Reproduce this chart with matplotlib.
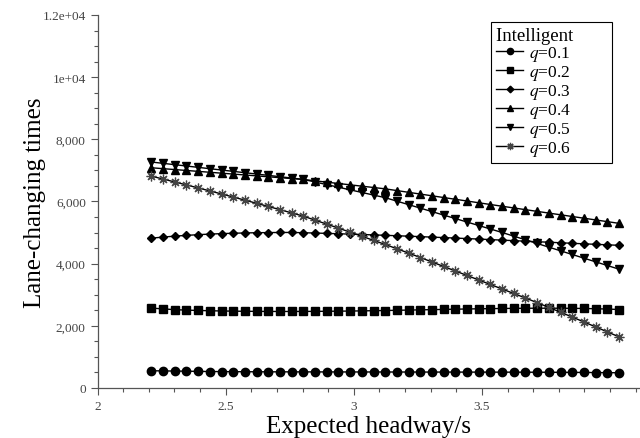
import numpy as np
import matplotlib
matplotlib.use("Agg")
import matplotlib.pyplot as plt

plt.rcParams['font.family'] = ['Liberation Serif', 'DejaVu Serif']
plt.rcParams['mathtext.fontset'] = 'stix'

# expected headway grid (41 runs)
headway = np.linspace(2.21, 4.035, 41)

q01 = [555, 550, 545, 540, 535, 530, 528, 525, 523, 522, 520, 520, 519, 518, 518, 517,
       517, 516, 516, 515, 515, 514, 514, 513, 513, 512, 512, 511, 511, 510, 510, 509,
       508, 507, 506, 504, 502, 500, 497, 494, 490]
q02 = [2570, 2545, 2520, 2505, 2495, 2485, 2478, 2472, 2468, 2465, 2463, 2462, 2462,
       2463, 2465, 2468, 2472, 2476, 2481, 2487, 2493, 2500, 2507, 2514, 2521, 2528,
       2535, 2542, 2548, 2553, 2558, 2562, 2565, 2567, 2567, 2566, 2563, 2558, 2550,
       2540, 2525]
q03 = [4820, 4855, 4885, 4910, 4932, 4951, 4966, 4978, 4988, 4995, 5000, 5003, 5004,
       4995, 4985, 4974, 4962, 4950, 4938, 4925, 4912, 4898, 4884, 4869, 4854, 4839,
       4823, 4807, 4791, 4774, 4757, 4740, 4723, 4706, 4689, 4672, 4655, 4638, 4622,
       4606, 4590]
q04 = [7085, 7056, 7027, 6998, 6969, 6940, 6911, 6882, 6853, 6824, 6795, 6766, 6737,
       6708, 6665, 6622, 6579, 6536, 6493, 6450, 6407, 6351, 6295, 6239, 6183, 6127,
       6071, 6015, 5959, 5903, 5847, 5792, 5737, 5682, 5627, 5572, 5517, 5462, 5407,
       5352, 5297]
q05 = [7270, 7227, 7184, 7141, 7098, 7055, 7012, 6969, 6926, 6883, 6840, 6797, 6754,
       6711, 6627, 6543, 6459, 6375, 6291, 6207, 6123, 6011, 5899, 5787, 5675, 5563,
       5451, 5339, 5227, 5115, 5003, 4885, 4767, 4649, 4531, 4413, 4295, 4177, 4059,
       3941, 3823]
q06 = [6815, 6722, 6628, 6533, 6437, 6340, 6242, 6143, 6043, 5942, 5840, 5737, 5633,
       5528, 5400, 5272, 5143, 5013, 4882, 4750, 4617, 4480, 4340, 4198, 4055, 3910,
       3765, 3620, 3475, 3330, 3185, 3040, 2895, 2745, 2592, 2438, 2282, 2125, 1966,
       1806, 1645]

series = [q01, q02, q03, q04, q05, q06]
labels = ['$q$=0.1', '$q$=0.2', '$q$=0.3', '$q$=0.4', '$q$=0.5', '$q$=0.6']
markers = ['o', 's', 'D', '^', 'v', (8, 2, 0)]
msizes = [6, 6, 4.5, 6, 6, 7]

fig = plt.figure(figsize=(6.4, 4.39), dpi=100)
ax = fig.add_axes([0.1525, 0.1139, 0.8475, 0.8497])

for ys, lab, mk, ms in zip(series, labels, markers, msizes):
    if isinstance(mk, str):
        ax.plot(headway, ys, color='black', lw=1.0, marker=mk, ms=ms,
                mfc='black', mec='black', label=lab)
    else:
        ax.plot(headway, ys, color='black', lw=1.0, marker=mk, ms=ms,
                mec='#444444', mew=0.9, label=lab)

ax.set_xlim(2, 4.117)
ax.set_ylim(0, 12000)
ax.set_xticks([2, 2.5, 3, 3.5])
ax.set_xticklabels(['2', '2.5', '3', '3.5'])
ax.set_xticks(np.arange(2, 4.11, 0.1), minor=True)
ax.set_yticks([0, 2000, 4000, 6000, 8000, 10000, 12000])
ax.set_yticklabels(['0', '2,000', '4,000', '6,000', '8,000', '1e+04', '1.2e+04'])
ax.set_yticks(np.arange(0, 12001, 500), minor=True)

for s in ['top', 'right']:
    ax.spines[s].set_visible(False)
for s in ['left', 'bottom']:
    ax.spines[s].set_color('#555555')
    ax.spines[s].set_linewidth(0.9)
ax.tick_params(which='major', direction='out', length=5, width=0.8,
               color='#555555', labelsize=9.5, labelcolor='#444444')
ax.tick_params(which='minor', direction='out', length=3, width=0.8, color='#555555')

ax.set_xlabel('Expected headway/s', fontsize=18, labelpad=2)
ax.set_ylabel('Lane-changing times', fontsize=18)
ax.yaxis.set_label_coords(-0.095, 0.5)

# trailing spaces widen the box like the original legend frame
leg = ax.legend(title='Intelligent       ', loc='upper right',
                bbox_to_anchor=(0.956, 0.948), bbox_transform=fig.transFigure,
                borderaxespad=0, fancybox=False, framealpha=1, edgecolor='black',
                fontsize=12.5, title_fontsize=13.5, labelspacing=0.0,
                handlelength=1.55, handletextpad=0.35, borderpad=0.3,
                markerscale=0.75, alignment='left')
leg.get_frame().set_linewidth(0.8)

fig.savefig('out.png', dpi=100)
